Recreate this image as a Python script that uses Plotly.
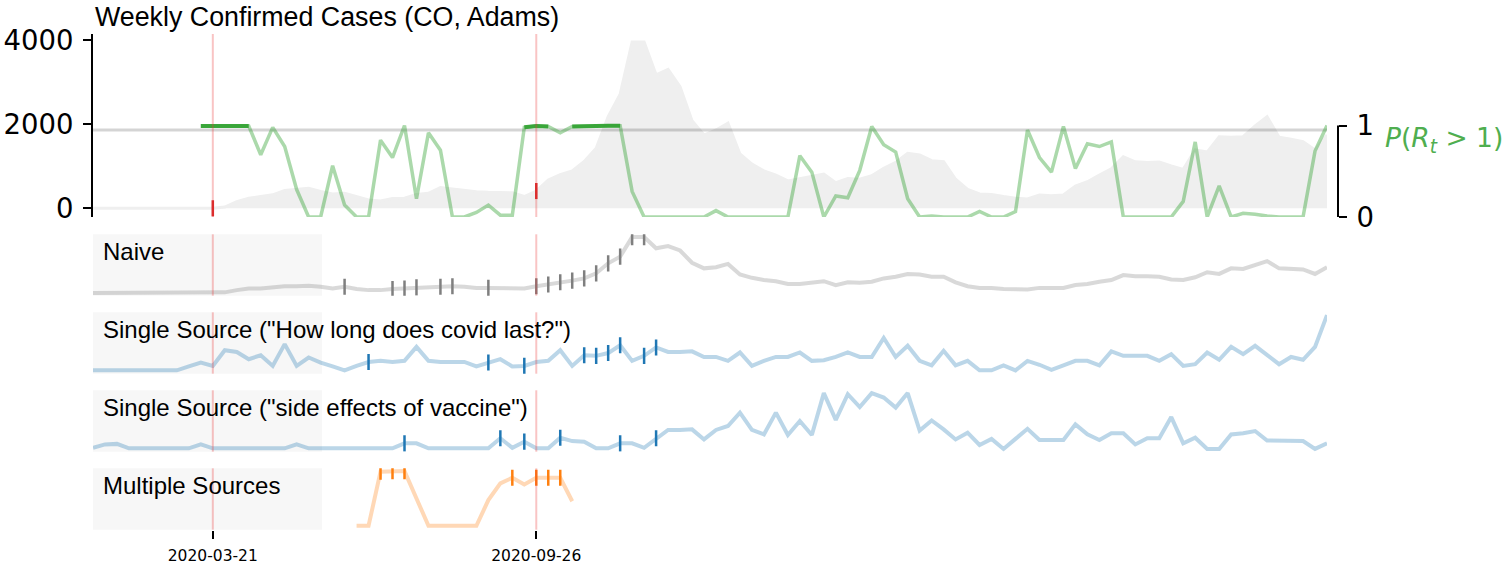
#python imports
import pandas as pd
import plotly.graph_objects as go

W, H = 1512, 568

#weekly dates (one point per week)
weeks = pd.date_range("2020-01-11", periods=104, freq="7D")

#weekly confirmed cases (CO, Adams)
cases = [0, 0, 0, 0, 0, 0, 0, 0, 0, 0,
         0, 30, 160, 240, 280, 320, 420, 450, 475, 400,
         340, 355, 280, 200, 175, 230, 240, 330, 355, 490,
         460, 420, 395, 380, 370, 370, 280, 410, 670, 800,
         890, 1110, 1425, 2180, 2710, 3950, 3950, 3170, 3300, 2890,
         2080, 1740, 1860, 2020, 1290, 1050, 890, 790, 650, 700,
         750, 810, 610, 710, 690, 775, 950, 1090, 1305, 1265,
         1130, 1105, 690, 450, 340, 330, 280, 240, 220, 315,
         300, 315, 530, 630, 790, 935, 1225, 1105, 1090, 1100,
         1005, 925, 1385, 1335, 1700, 1685, 1700, 1955, 2175, 1685,
         1640, 1580, 1385, 1740]

#probability that R_t > 1
p_rt = [None, None, None, None, None, None, None, None, None, 0.995,
        0.995, 0.995, 0.995, 0.995, 0.68, 0.98, 0.77, 0.30, 0.0, 0.0,
        0.56, 0.13, 0.0, 0.0, 0.84, 0.65, 1.0, 0.20, 0.92, 0.73,
        0.0, 0.0, 0.05, 0.13, 0.02, 0.02, 0.98, 0.995, 0.99, 0.92,
        0.99, 0.995, 0.997, 0.997, 0.997, 0.28, 0.0, 0.0, 0.0, 0.0,
        0.0, 0.0, 0.07, 0.0, 0.0, 0.0, 0.0, 0.0, 0.0, 0.67,
        0.49, 0.0, 0.23, 0.21, 0.51, 0.99, 0.79, 0.71, 0.20, 0.0,
        0.01, 0.0, 0.0, 0.0, 0.06, 0.0, 0.0, 0.06, 0.95, 0.65,
        0.49, 0.99, 0.53, 0.80, 0.77, 0.82, 0.0, 0.0, 0.0, 0.0,
        0.0, 0.17, 0.82, 0.0, 0.34, 0.0, 0.04, 0.03, 0.01, 0.0,
        0.0, 0.0, 0.72, 1.0]
threshold = 0.95

#normalised signals
naive = [0, 0, 0, 0, 0, 0, 0, 0, 0, 0,
         0, 0.01, 0.05, 0.08, 0.08, 0.10, 0.12, 0.12, 0.13, 0.11,
         0.08, 0.11, 0.07, 0.05, 0.05, 0.07, 0.08, 0.10, 0.10, 0.11,
         0.12, 0.11, 0.09, 0.09, 0.09, 0.08, 0.08, 0.12, 0.15, 0.19,
         0.22, 0.26, 0.35, 0.53, 0.65, 1.0, 1.0, 0.80, 0.84, 0.76,
         0.54, 0.44, 0.46, 0.52, 0.33, 0.27, 0.23, 0.21, 0.16, 0.16,
         0.19, 0.21, 0.14, 0.19, 0.18, 0.20, 0.26, 0.29, 0.34, 0.33,
         0.29, 0.29, 0.19, 0.12, 0.09, 0.09, 0.07, 0.06, 0.06, 0.09,
         0.09, 0.09, 0.14, 0.16, 0.20, 0.23, 0.32, 0.30, 0.30, 0.29,
         0.24, 0.23, 0.28, 0.37, 0.34, 0.44, 0.43, 0.50, 0.57, 0.44,
         0.43, 0.42, 0.34, 0.46]

single_covid = [0.01, 0.01, 0.01, 0.01, 0.01, 0.01, 0.01, 0.01, 0.08, 0.15,
                0.09, 0.37, 0.34, 0.21, 0.28, 0.09, 0.48, 0.09, 0.24, 0.15,
                0.08, 0.01, 0.09, 0.16, 0.18, 0.16, 0.18, 0.43, 0.18, 0.16,
                0.16, 0.16, 0.08, 0.15, 0.21, 0.08, 0.09, 0.16, 0.18, 0.37,
                0.09, 0.28, 0.27, 0.32, 0.46, 0.18, 0.27, 0.42, 0.34, 0.34,
                0.35, 0.25, 0.25, 0.18, 0.33, 0.09, 0.18, 0.25, 0.25, 0.33,
                0.18, 0.19, 0.25, 0.33, 0.25, 0.25, 0.59, 0.25, 0.45, 0.18,
                0.10, 0.36, 0.10, 0.18, 0.01, 0.01, 0.10, 0.01, 0.18, 0.11,
                0.02, 0.10, 0.18, 0.18, 0.10, 0.35, 0.27, 0.27, 0.27, 0.18,
                0.30, 0.09, 0.12, 0.33, 0.20, 0.43, 0.30, 0.45, 0.28, 0.12,
                0.25, 0.20, 0.43, 1.0]

single_vaccine = [0.02, 0.08, 0.09, 0.01, 0.01, 0.01, 0.01, 0.01, 0.01, 0.08,
                  0.01, 0.01, 0.01, 0.01, 0.01, 0.01, 0.01, 0.08, 0.01, 0.01,
                  0.01, 0.01, 0.01, 0.01, 0.01, 0.01, 0.10, 0.10, 0.01, 0.01,
                  0.01, 0.01, 0.01, 0.01, 0.19, 0.02, 0.13, 0.01, 0.01, 0.20,
                  0.14, 0.13, 0.01, 0.01, 0.10, 0.10, 0.02, 0.19, 0.34, 0.34,
                  0.35, 0.17, 0.34, 0.41, 0.65, 0.34, 0.26, 0.65, 0.25, 0.50,
                  0.25, 1.0, 0.52, 0.98, 0.75, 1.0, 0.92, 0.74, 1.0, 0.33,
                  0.51, 0.35, 0.17, 0.29, 0.07, 0.18, 0.0, 0.18, 0.36, 0.16,
                  0.16, 0.16, 0.44, 0.26, 0.16, 0.28, 0.28, 0.08, 0.19, 0.19,
                  0.57, 0.10, 0.20, 0.0, 0.0, 0.26, 0.28, 0.32, 0.15, 0.15,
                  0.15, 0.14, 0.0, 0.10]

multiple = [None] * 22 + [0.02, 0.02, 0.99, 1.0, 1.0, 0.51, 0.02, 0.02, 0.02, 0.02,
                          0.02, 0.48, 0.78, 0.88, 0.76, 0.88, 0.88, 0.88, 0.46] + [None] * 63

#week indices where each method raised an alarm
naive_events = [21, 25, 26, 27, 29, 30, 33, 37, 38, 39, 40, 41, 42, 43, 44, 45, 46]
covid_events = [23, 33, 36, 41, 42, 43, 44, 46, 47]
vaccine_events = [26, 34, 36, 39, 44, 47]
multiple_events = [24, 25, 26, 35, 37, 38, 39]

#reference outbreak dates (also the x tick labels)
outbreak_dates = ["2020-03-21", "2020-09-26"]

panel_labels = ["Naive", 'Single Source ("How long does covid last?")',
                'Single Source ("side effects of vaccine")', "Multiple Sources"]

#pixel layout -> paper fractions
def py(pix):
    return 1 - pix / H

x_dom = [93 / W, 1327 / W]
top_dom = [py(217), py(34)]
panel_tops = [234.3, 312.3, 390.3, 468.3]
panel_h = 61.4

fig = go.Figure()

#cases area
fig.add_trace(go.Scatter(x=weeks, y=cases, mode="lines", fill="tozeroy",
                         fillcolor="#efefef", line=dict(color="#efefef", width=3),
                         xaxis="x", yaxis="y"))
outbreak_idx = [list(weeks.strftime("%Y-%m-%d")).index(d) for d in outbreak_dates]
fig.add_trace(go.Scatter(x=[weeks[i] for i in outbreak_idx], y=[cases[i] for i in outbreak_idx],
                         mode="markers", xaxis="x", yaxis="y",
                         marker=dict(symbol="line-ns", size=11.5,
                                     line=dict(color="#d62728", width=2.5))))

#P(R_t > 1) on right axis
fig.add_trace(go.Scatter(x=[weeks[0], weeks[-1]], y=[threshold, threshold], mode="lines",
                         line=dict(color="rgba(0,0,0,0.17)", width=3), xaxis="x", yaxis="y2"))
fig.add_trace(go.Scatter(x=weeks, y=p_rt, mode="lines",
                         line=dict(color="rgba(44,160,44,0.4)", width=3.5), xaxis="x", yaxis="y2"))
p_high = [p if (p is not None and p >= threshold) else None for p in p_rt]
fig.add_trace(go.Scatter(x=weeks, y=p_high, mode="lines",
                         line=dict(color="rgba(44,160,44,0.9)", width=4), xaxis="x", yaxis="y2"))

#lower panels
series = [naive, single_covid, single_vaccine, multiple]
events = [naive_events, covid_events, vaccine_events, multiple_events]
light = ["rgba(128,128,128,0.3)", "rgba(31,119,180,0.3)", "rgba(31,119,180,0.3)", "rgba(255,127,14,0.3)"]
dark = ["#7f7f7f", "#1f77b4", "#1f77b4", "#ff7f0e"]

for k in range(4):
    ax = "y" + str(k + 3)
    fig.add_trace(go.Scatter(x=weeks, y=series[k], mode="lines",
                             line=dict(color=light[k], width=4), xaxis="x", yaxis=ax))
    fig.add_trace(go.Scatter(x=[weeks[i] for i in events[k]], y=[series[k][i] for i in events[k]],
                             mode="markers", xaxis="x", yaxis=ax,
                             marker=dict(symbol="line-ns", size=11.5,
                                         line=dict(color=dark[k], width=2.5))))

shapes = []
annotations = []
for k in range(4):
    ax = "y" + str(k + 3)
    shapes.append(dict(type="rect", xref="paper", x0=93 / W, x1=322 / W,
                       yref=ax + " domain", y0=0, y1=1,
                       fillcolor="#f7f7f7", line=dict(width=0), layer="below"))
    annotations.append(dict(text=panel_labels[k], xref="paper", yref="paper",
                            x=101 / W, y=py(panel_tops[k] + 17.5),
                            xanchor="left", yanchor="middle", showarrow=False,
                            font=dict(family="Liberation Sans", size=24, color="black")))

for ax in ["y", "y3", "y4", "y5", "y6"]:
    for d in outbreak_dates:
        shapes.append(dict(type="line", xref="x", x0=d, x1=d, yref=ax + " domain", y0=0, y1=1,
                           line=dict(color="rgba(235,60,60,0.3)", width=2), layer="above"))

#bounded right spine
shapes.append(dict(type="line", xref="paper", x0=1338 / W, x1=1338 / W, yref="y2", y0=0, y1=1,
                   line=dict(color="black", width=2)))

annotations.append(dict(text="Weekly Confirmed Cases (CO, Adams)", xref="paper", yref="paper",
                        x=93 / W, y=py(17.2), xanchor="left", yanchor="middle", showarrow=False,
                        font=dict(family="Liberation Sans", size=26.8, color="black")))
annotations.append(dict(text="<i>P</i>(<i>R</i><sub><i>t</i></sub> > 1)", xref="paper", yref="paper",
                        x=1383 / W, y=py(139), xanchor="left", yanchor="middle", showarrow=False,
                        font=dict(family="DejaVu Sans", size=26.5, color="#4fae4f")))

layout = dict(
    template="none",
    width=W, height=H, margin=dict(l=0, r=0, t=0, b=0, autoexpand=False),
    plot_bgcolor="white", paper_bgcolor="white", showlegend=False,
    xaxis=dict(domain=x_dom, anchor="y6", range=[weeks[0], weeks[-1]], automargin=False,
               tickvals=outbreak_dates, ticktext=outbreak_dates,
               ticks="outside", ticklen=8, tickwidth=2, tickcolor="black",
               showline=False, showgrid=False, zeroline=False, ticklabelstandoff=4,
               tickfont=dict(family="DejaVu Sans", size=15.5, color="black")),
    yaxis=dict(domain=top_dom, anchor="x", range=[-207, 4140], tickvals=[0, 2000, 4000],
               automargin=False, ticks="outside", ticklen=8, tickwidth=2, tickcolor="black",
               showline=True, linecolor="black", linewidth=2,
               showgrid=False, zeroline=False, ticklabelstandoff=4,
               tickfont=dict(family="DejaVu Sans", size=27.5, color="black")),
    yaxis2=dict(overlaying="y", side="right", anchor="free", position=1338 / W,
                automargin=False, range=[0, 2.0], tickvals=[0, 1], ticks="outside",
                ticklen=8, tickwidth=2, tickcolor="black",
                showline=False, showgrid=False, zeroline=False, ticklabelstandoff=4,
                tickfont=dict(family="DejaVu Sans", size=27.5, color="black")),
    shapes=shapes,
    annotations=annotations,
)
for k in range(4):
    top = panel_tops[k]
    layout["yaxis" + str(k + 3)] = dict(domain=[py(top + panel_h), py(top)], anchor="x",
                                        range=[-0.05, 1.05], visible=False, automargin=False)

fig.update_layout(layout)

#pin the figure to the window origin so the page is exactly the figure
pin = ("var s=document.documentElement.style;s.margin='0';s.overflow='hidden';"
       "var b=document.body.style;b.margin='0';b.overflow='hidden';"
       "var g=document.getElementById('{plot_id}').style;"
       "g.position='absolute';g.left='0px';g.top='0px';")
fig.write_html("out.html", post_script=pin, config={"displayModeBar": False})
